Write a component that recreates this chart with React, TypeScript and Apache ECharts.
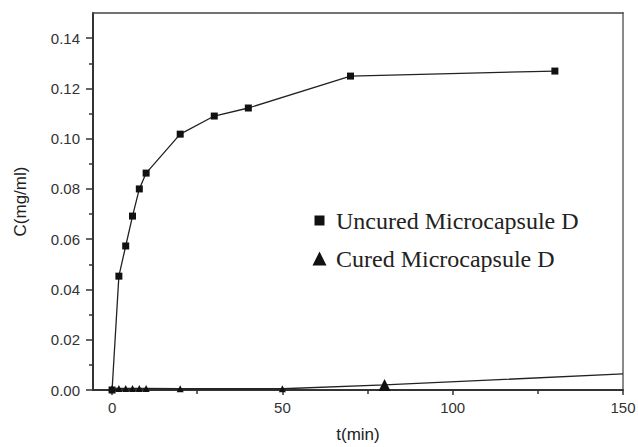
import React, { useEffect, useRef } from "react";
import * as echarts from "echarts";

const uncuredTime = [0, 2, 4, 6, 8, 10, 20, 30, 40, 70, 130];
const uncuredConc = [0, 0.0453, 0.0573, 0.0692, 0.08, 0.0863, 0.1018, 0.109, 0.1122, 0.1249, 0.1269];
const curedTime = [0, 2, 4, 6, 8, 10, 20, 50, 80, 150];
const curedConc = [0.0006, 0.0006, 0.0006, 0.0006, 0.0006, 0.0006, 0.0005, 0.0005, 0.002, 0.0064];
const xMajorTicks = [0, 50, 100, 150];
const xMinorTicks = [25, 75, 125];
const yMajorTicks = [0, 0.02, 0.04, 0.06, 0.08, 0.1, 0.12, 0.14];
const yMinorTicks = [0.01, 0.03, 0.05, 0.07, 0.09, 0.11, 0.13];
const seriesNames = ["Uncured Microcapsule D", "Cured Microcapsule D"];

const X_MIN = -5.6;
const X_MAX = 150;
const Y_MIN = 0;
const Y_MAX = 0.15;

const sans = "'Liberation Sans', Arial, sans-serif";
const serif = "'Liberation Serif', 'Times New Roman', serif";
const axisColor = "#333";

export default function App() {
  const ref = useRef<HTMLDivElement>(null);

  useEffect(() => {
    if (!ref.current) return;
    const chart = echarts.init(ref.current, null, { renderer: "svg" });
    const hidden = { show: false };
    chart.setOption({
      animation: false,
      backgroundColor: "#fff",
      grid: { left: 93, right: 15, top: 13, bottom: 57, containLabel: false, outerBoundsMode: "none" },
      legend: {
        orient: "vertical",
        left: 307,
        top: 203,
        itemWidth: 19,
        itemHeight: 15,
        itemGap: 13,
        textStyle: { fontFamily: serif, fontSize: 24, color: "#222", lineHeight: 25 },
        data: [
          { name: seriesNames[0], icon: "path://M0,0M19,15M2.5,2.5h10v10h-10z" },
          { name: seriesNames[1], icon: "path://M0,0M19,15M0.5,14.5L7.5,0.5L14.5,14.5z" },
        ],
      },
      xAxis: [
        {
          type: "value",
          min: X_MIN,
          max: X_MAX,
          position: "bottom",
          name: "t(min)",
          nameLocation: "middle",
          nameGap: 36,
          nameTextStyle: { fontFamily: sans, fontSize: 17, color: "#222" },
          axisLine: { show: true, onZero: false, lineStyle: { color: axisColor, width: 2 } },
          axisTick: { show: true, inside: false, length: 5, customValues: xMajorTicks, lineStyle: { color: axisColor, width: 1.5 } },
          axisLabel: {
            customValues: xMajorTicks,
            formatter: (v: number) => String(v),
            fontFamily: sans,
            fontSize: 15,
            color: "#333",
            margin: 10,
          },
          splitLine: hidden,
        },
        {
          type: "value",
          min: X_MIN,
          max: X_MAX,
          position: "bottom",
          axisLine: { show: false, onZero: false },
          axisTick: { show: true, inside: false, length: 4, customValues: xMinorTicks, lineStyle: { color: axisColor, width: 1.5 } },
          axisLabel: hidden,
          splitLine: hidden,
        },
        {
          type: "value",
          min: X_MIN,
          max: X_MAX,
          position: "top",
          axisLine: { show: true, onZero: false, lineStyle: { color: "#444", width: 1.5 } },
          axisTick: hidden,
          axisLabel: hidden,
          splitLine: hidden,
        },
      ],
      yAxis: [
        {
          type: "value",
          min: Y_MIN,
          max: Y_MAX,
          position: "left",
          name: "C(mg/ml)",
          nameLocation: "middle",
          nameGap: 64,
          nameTextStyle: { fontFamily: sans, fontSize: 17, color: "#222" },
          axisLine: { show: true, onZero: false, lineStyle: { color: axisColor, width: 2 } },
          axisTick: { show: true, inside: false, length: 7, customValues: yMajorTicks, lineStyle: { color: axisColor, width: 1.5 } },
          axisLabel: {
            customValues: yMajorTicks,
            formatter: (v: number) => v.toFixed(2),
            fontFamily: sans,
            fontSize: 15,
            color: "#333",
            margin: 13,
          },
          splitLine: hidden,
        },
        {
          type: "value",
          min: Y_MIN,
          max: Y_MAX,
          position: "left",
          axisLine: { show: false, onZero: false },
          axisTick: { show: true, inside: false, length: 4, customValues: yMinorTicks, lineStyle: { color: axisColor, width: 1.5 } },
          axisLabel: hidden,
          splitLine: hidden,
        },
        {
          type: "value",
          min: Y_MIN,
          max: Y_MAX,
          position: "right",
          axisLine: { show: true, onZero: false, lineStyle: { color: "#8a8a8a", width: 2 } },
          axisTick: hidden,
          axisLabel: hidden,
          splitLine: hidden,
        },
      ],
      series: [
        {
          type: "line",
          name: seriesNames[0],
          xAxisIndex: 0,
          yAxisIndex: 0,
          data: uncuredTime.map((t, i) => [t, uncuredConc[i]]),
          symbol: "rect",
          symbolSize: 7,
          itemStyle: { color: "#111" },
          lineStyle: { color: "#222", width: 1.3 },
          z: 2,
        },
        {
          type: "line",
          name: seriesNames[1],
          xAxisIndex: 0,
          yAxisIndex: 0,
          data: curedTime.map((t, i) => [t, curedConc[i]]),
          symbol: (_v: any, p: any) => (p.dataIndex === curedTime.length - 1 ? "none" : "triangle"),
          symbolSize: (_v: any, p: any) => (p.dataIndex === 8 ? 12 : 7),
          itemStyle: { color: "#111" },
          lineStyle: { color: "#222", width: 1.3 },
          z: 3,
        },
      ],
    });
    return () => chart.dispose();
  }, []);

  return (
    <div
      ref={ref}
      style={{ position: "fixed", left: 0, top: 0, width: 638, height: 447, background: "#fff" }}
    />
  );
}
